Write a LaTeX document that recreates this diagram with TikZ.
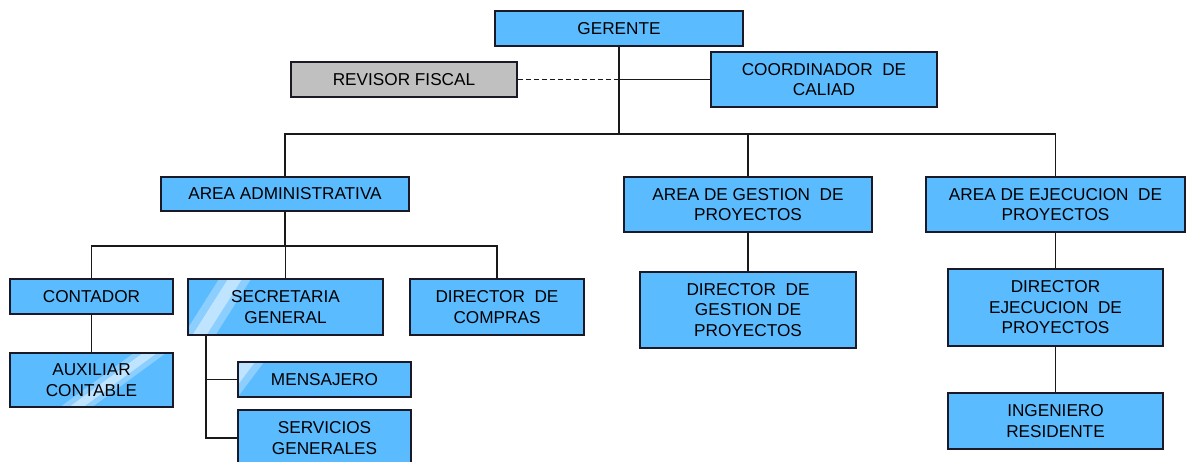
\documentclass[tikz,border=0pt]{standalone}
\usepackage{fontspec}
\setmainfont{Liberation Sans}
\usetikzlibrary{positioning, calc}

\definecolor{cajaazul}{RGB}{91,187,255}
\definecolor{cajagris}{RGB}{192,192,192}
\definecolor{borde}{RGB}{25,25,40}

\tikzset{
  cargo/.style={draw=borde, fill=cajaazul, line width=1.8pt, align=center,
    inner sep=0pt, font=\fontsize{17.2}{20.5}\selectfont},
  linea/.style={line width=1.6pt, draw=black!90},
  glossy/.style n args={2}{path picture={
    \fill[white, opacity=.3] let \p1=(path picture bounding box.north west) in
      (\x1+#1pt-16pt,\y1) -- (\x1+#1pt+16pt,\y1) -- (\x1+#1pt+#2pt+16pt,\y1-60pt) -- (\x1+#1pt+#2pt-16pt,\y1-60pt) -- cycle;
    \fill[white, opacity=.45] let \p1=(path picture bounding box.north west) in
      (\x1+#1pt-7pt,\y1) -- (\x1+#1pt+7pt,\y1) -- (\x1+#1pt+#2pt+7pt,\y1-60pt) -- (\x1+#1pt+#2pt-7pt,\y1-60pt) -- cycle;}}
}

\begin{document}
\begin{tikzpicture}[x=1pt, y=-1pt]
  \useasboundingbox (0,0) rectangle (1186,461);
  \clip (0,0) rectangle (1186,461);

  \node [cargo, minimum width=248, minimum height=35] (ger) at (619,28.5) {GERENTE};
  \node [cargo, fill=cajagris, minimum width=226, minimum height=35] (rev) at (404,79.5) {REVISOR FISCAL};
  \node [cargo, minimum width=226, minimum height=55] (coord) at (824,79.5) {COORDINADOR \ DE\\CALIAD};

  \node [cargo, minimum width=248, minimum height=34] (admin) at (285,194) {AREA ADMINISTRATIVA};
  \node [cargo, minimum width=248, minimum height=55] (gest) at (748,204.5) {AREA DE GESTION \ DE\\PROYECTOS};
  \node [cargo, minimum width=259, minimum height=55] (ejec) at (1055.5,204.5) {AREA DE EJECUCION \ DE\\PROYECTOS};

  \node [cargo, minimum width=163, minimum height=35] (cont) at (91.5,296.5) {CONTADOR};
  \node [cargo, glossy={47}{-38}, minimum width=195, minimum height=56] (secre) at (285.5,307) {SECRETARIA\\GENERAL};
  \node [cargo, minimum width=174, minimum height=56] (compras) at (497,307) {DIRECTOR \ DE\\COMPRAS};
  \node [cargo, glossy={140}{-82}, minimum width=163, minimum height=54] (aux) at (91.5,380) {AUXILIAR\\CONTABLE};
  \node [cargo, glossy={10}{-45}, minimum width=173, minimum height=35] (mens) at (324.5,379.5) {MENSAJERO};
  \node [cargo, minimum width=173, minimum height=56] (serv) at (324.5,438) {SERVICIOS\\GENERALES};

  \node [cargo, minimum width=216, minimum height=76] (dgest) at (748,310) {DIRECTOR \ DE\\GESTION DE\\PROYECTOS};
  \node [cargo, minimum width=215, minimum height=77] (dejec) at (1055.5,307.5) {DIRECTOR\\EJECUCION \ DE\\PROYECTOS};
  \node [cargo, minimum width=215, minimum height=56] (ing) at (1055.5,421) {INGENIERO\\RESIDENTE};

  \coordinate (busA) at (0,134);
  \coordinate (busB) at (0,246);
  \coordinate (sg) at (206,0);

  \draw [linea, line width=2.4pt] (ger.south) -- (ger.south |- busA);
  \draw [linea, dashed, dash pattern=on 5pt off 3pt] (rev.east) -- (ger.south |- rev.east);
  \draw [linea] (ger.south |- coord.west) -- (coord.west);
  \draw [linea] (admin.north) |- (ejec.north |- busA) -- (ejec.north);
  \draw [linea] (gest.north) -- (gest.north |- busA);

  \draw [linea] (admin.south) -- (admin.south |- busB);
  \draw [linea] (cont.north) |- (compras.north |- busB) -- (compras.north);
  \draw [linea] (secre.north) -- (secre.north |- busB);
  \draw [linea] (cont.south) -- (aux.north);
  \draw [linea] (secre.south -| sg) |- (serv.west);
  \draw [linea] (sg |- mens.west) -- (mens.west);

  \draw [linea] (gest.south) -- (dgest.north);
  \draw [linea] (ejec.south) -- (dejec.north);
  \draw [linea] (dejec.south) -- (ing.north);
\end{tikzpicture}
\end{document}
